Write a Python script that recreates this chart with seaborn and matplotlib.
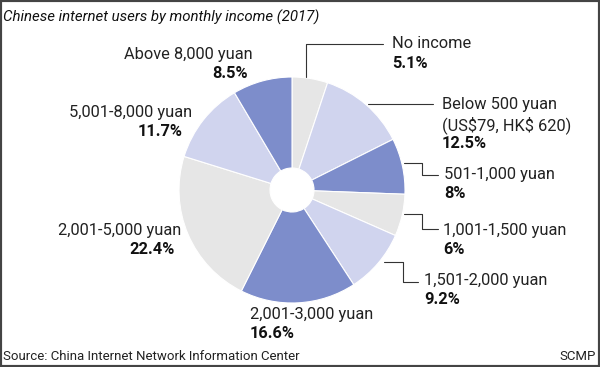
import matplotlib
matplotlib.use("Agg")
import matplotlib.pyplot as plt
import seaborn as sns

### pie (donut) of Chinese internet users by monthly income, SCMP style

categories = ["No income", "Below 500 yuan", "501-1,000 yuan", "1,001-1,500 yuan",
              "1,501-2,000 yuan", "2,001-3,000 yuan", "2,001-5,000 yuan",
              "5,001-8,000 yuan", "Above 8,000 yuan"]
shares = [5.1, 12.5, 8, 6, 9.2, 16.6, 22.4, 11.7, 8.5]
share_labels = ["5.1%", "12.5%", "8%", "6%", "9.2%", "16.6%", "22.4%", "11.7%", "8.5%"]

title = "Chinese internet users by monthly income (2017)"
source = "Source: China Internet Network Information Center"

sns.set_style("white")
plt.rcParams["font.family"] = ["Roboto", "DejaVu Sans"]

gray, lav, blue = "#e6e6e6", "#d0d4ee", "#7d8dcb"
my_palette = sns.color_palette([gray, lav, blue, gray, lav, blue, gray, lav, blue])

W, H = 600, 367
fig = plt.figure(figsize=(W / 100, H / 100), dpi=100)
ax = fig.add_axes([0, 0, 1, 1])
ax.set_xticks([])
ax.set_yticks([])
for s in ax.spines.values():
    s.set_color("#444444")
    s.set_linewidth(3)

def Y(py):  # pixel row from top -> data y
    return H - py

cx, cy, r = 292, 190, 113
ax.pie(shares, colors=my_palette, startangle=90, counterclock=False,
       center=(cx, Y(cy)), radius=r, frame=True,
       wedgeprops=dict(width=r - 22, edgecolor="white", linewidth=0.8))
ax.set_xlim(0, W)
ax.set_ylim(0, H)
ax.set_aspect("equal")

fs = 11.8
def lab(x, y, name, pct, ha="left", extra=None, px=None):
    lines = [name] + ([extra] if extra else [])
    for i, t in enumerate(lines):
        ax.text(x, Y(y + 20 * i), t, ha=ha, va="center", fontsize=fs, color="#222222")
    ax.text(x if px is None else px, Y(y + 19 * len(lines)), pct, ha=ha, va="center",
            fontsize=fs, fontweight="bold", color="#111111")

# right side labels
lab(392, 44, categories[0], share_labels[0])
lab(442, 105, categories[1], share_labels[1], extra="(US\\$79, HK\\$ 620)")
lab(444, 175, categories[2], share_labels[2])
lab(443, 230, categories[3], share_labels[3])
lab(424, 281, categories[4], share_labels[4])
lab(250, 315, categories[5], share_labels[5])
# left side labels (right aligned)
lab(181, 230, categories[6], share_labels[6], ha="right", px=175)
lab(192, 112, categories[7], share_labels[7], ha="right", px=183)
lab(253, 54, categories[8], share_labels[8], ha="right", px=248)

# leader lines
lc = dict(color="#333333", lw=0.8)
ax.plot([306, 306, 383], [Y(77), Y(44), Y(44)], **lc)
ax.plot([368, 433], [Y(104), Y(104)], **lc)
ax.plot([404, 422, 422, 438], [Y(163), Y(163), Y(175), Y(175)], **lc)
ax.plot([404, 422, 422, 438], [Y(214), Y(214), Y(229), Y(229)], **lc)
ax.plot([384, 403, 403, 418], [Y(262), Y(262), Y(282), Y(282)], **lc)

ax.text(3, Y(17), title, ha="left", va="center", fontsize=10.8, style="italic", color="#111111")
ax.text(3, Y(357), source, ha="left", va="center", fontsize=9.5, color="#222222")
ax.text(596, Y(357), "SCMP", ha="right", va="center", fontsize=9.5, color="#222222")

fig.savefig("out.png", dpi=100)
